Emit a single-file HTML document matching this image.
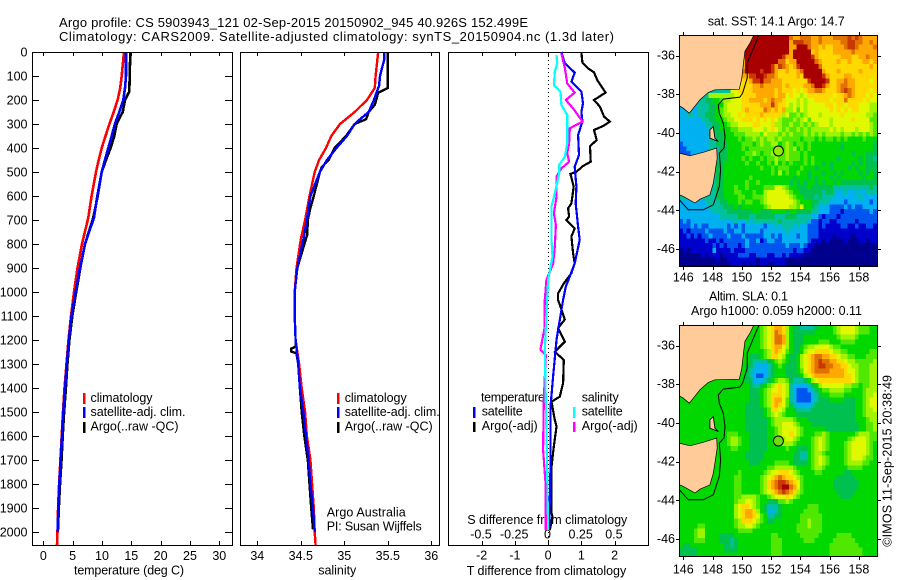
<!DOCTYPE html>
<html lang="en">
<head>
<meta charset="utf-8">
<title>Argo profile CS 5903943_121</title>
<style>
html,body{margin:0;padding:0;background:#fff;}
svg{display:block;}
text{font-family:"Liberation Sans",sans-serif;font-size:12.5px;fill:#000;}
</style>
</head>
<body>
<svg id="chart" xmlns="http://www.w3.org/2000/svg" width="900" height="580" viewBox="0 0 900 580">
  <defs>
    <clipPath id="clip-sst"><rect x="679" y="35" width="198" height="231"/></clipPath>
    <clipPath id="clip-sla"><rect x="679" y="325" width="198" height="231"/></clipPath>
  </defs>
  <rect width="900" height="580" fill="#fff"/>
  <text style="font-size:13px" x="59" y="27" textLength="469" lengthAdjust="spacing">Argo profile: CS 5903943_121 02-Sep-2015 20150902_945 40.926S 152.499E</text>
  <text style="font-size:13px" x="59" y="41" textLength="555" lengthAdjust="spacing">Climatology: CARS2009. Satellite-adjusted climatology: synTS_20150904.nc (1.3d later)</text>

  <g id="temp-panel"></g>
  <g id="sal-panel"></g>
  <g id="diff-panel"></g>
  <g id="sst-map"></g>
  <g id="sla-map"></g>

  <text x="74" y="574.5" textLength="110" lengthAdjust="spacing">temperature (deg C)</text>
  <rect x="83" y="393" width="2.5" height="11" fill="#f00"/>
  <text x="90.5" y="402" textLength="62" lengthAdjust="spacing">climatology</text>
  <rect x="83" y="407" width="2.5" height="11" fill="#00f"/>
  <text x="90.5" y="416" textLength="95" lengthAdjust="spacing">satellite-adj. clim.</text>
  <rect x="83" y="422" width="2.5" height="11" fill="#000"/>
  <text x="90.5" y="430.5" textLength="88" lengthAdjust="spacing">Argo(..raw -QC)</text>

  <text x="318.3" y="574.5" textLength="38" lengthAdjust="spacing">salinity</text>
  <rect x="337" y="393" width="2.5" height="11" fill="#f00"/>
  <text x="344.7" y="402" textLength="62" lengthAdjust="spacing">climatology</text>
  <rect x="337" y="407" width="2.5" height="11" fill="#00f"/>
  <text x="344.7" y="416" textLength="95" lengthAdjust="spacing">satellite-adj. clim.</text>
  <rect x="337" y="422" width="2.5" height="11" fill="#000"/>
  <text x="344.7" y="430.5" textLength="88" lengthAdjust="spacing">Argo(..raw -QC)</text>
  <text x="326.7" y="516.7" textLength="79" lengthAdjust="spacing">Argo Australia</text>
  <text x="326.7" y="530.7" textLength="95" lengthAdjust="spacing">PI: Susan Wijffels</text>

  <text x="481" y="401.7" textLength="64" lengthAdjust="spacing">temperature</text>
  <rect x="473" y="407" width="2.5" height="11" fill="#00f"/>
  <text x="481.7" y="415.7" textLength="41" lengthAdjust="spacing">satellite</text>
  <rect x="473" y="422" width="2.5" height="10" fill="#000"/>
  <text x="481.7" y="430" textLength="56" lengthAdjust="spacing">Argo(-adj)</text>
  <text x="581.7" y="401.7" textLength="37" lengthAdjust="spacing">salinity</text>
  <rect x="573" y="407" width="2.5" height="11" fill="#0ff"/>
  <text x="581.7" y="415.7" textLength="41" lengthAdjust="spacing">satellite</text>
  <rect x="573" y="422" width="2.5" height="10" fill="#f0f"/>
  <text x="581.7" y="430" textLength="56" lengthAdjust="spacing">Argo(-adj)</text>
  <text x="467.3" y="524" textLength="160" lengthAdjust="spacing">S difference from climatology</text>
  <text x="466.7" y="575" textLength="159.5" lengthAdjust="spacing">T difference from climatology</text>

  <text x="707.7" y="25.7" textLength="137" lengthAdjust="spacing">sat. SST: 14.1  Argo: 14.7</text>
  <text x="709" y="300.7" textLength="79" lengthAdjust="spacing">Altim. SLA: 0.1</text>
  <text x="691" y="315" textLength="171" lengthAdjust="spacing">Argo h1000: 0.059 h2000: 0.11</text>
  <text transform="translate(891.5,546.7) rotate(-90)" textLength="171.7" lengthAdjust="spacing">©IMOS 11-Sep-2015 20:38:49</text>
</svg>

<script>
// ---------- profile data (depth in m) ----------
const depthTicks = [0,100,200,300,400,500,600,700,800,900,1000,1100,1200,1300,1400,1500,1600,1700,1800,1900,2000];
const tempTicks = [0,5,10,15,20,25,30];
const salTicks = [34,34.5,35,35.5,36];
const diffTTicks = [-2,-1,0,1,2];
const diffSTicks = [-0.5,-0.25,0,0.25,0.5];

const tempClimDepth = [0,100,150,200,250,300,350,400,450,500,600,690,800,900,1000,1100,1200,1300,1400,1500,1600,1700,1800,1900,2000,2054];
const tempClim = [13.76,13.36,13.1,12.67,12.0,11.26,10.6,9.95,9.45,8.98,8.24,7.67,6.6,5.83,5.23,4.72,4.3,3.95,3.62,3.35,3.14,2.92,2.7,2.53,2.42,2.33];
const tempSatDepth = [0,100,150,200,250,300,350,400,450,500,600,690,800,900,1000,1100,1200,1300,1400,1500,1600,1700,1800,1900,2000];
const tempSat = [14.1,14.1,13.93,13.64,12.96,12.2,11.66,11.08,10.5,9.95,9.2,8.64,7.1,6.25,5.49,4.8,4.35,4.0,3.7,3.41,3.19,2.96,2.73,2.56,2.45];
const tempArgoDepth = [0,165,200,250,300,350,400,450,500,600,690,800,900,1000,1100,1200,1300,1400,1500,1600,1700,1800,1900,1990];
const tempArgo = [14.83,14.66,13.93,13.53,12.5,12.1,11.48,10.69,9.95,9.27,8.52,7.1,6.3,5.6,4.95,4.45,4.1,3.85,3.55,3.3,3.1,2.85,2.65,2.5];

const salClimDepth = [0,100,150,200,250,300,350,400,450,500,600,700,780,900,1000,1100,1200,1300,1400,1500,1600,1700,1800,1900,2000,2054];
const salClim = [35.39,35.36,35.35,35.26,35.12,34.95,34.85,34.79,34.71,34.66,34.6,34.55,34.5,34.45,34.43,34.43,34.44,34.48,34.51,34.55,34.57,34.61,34.63,34.65,34.66,34.67];
const salSatDepth = [0,30,100,140,200,250,280,300,350,400,450,500,600,700,780,900,1000,1100,1200,1300,1400,1500,1600,1700,1800,1900,2000];
const salSat = [35.46,35.46,35.41,35.4,35.34,35.28,35.18,35.12,35.03,34.91,34.8,34.72,34.61,34.57,34.53,34.46,34.43,34.43,34.44,34.47,34.49,34.53,34.56,34.59,34.61,34.64,34.66];
const salArgoDepth = [0,150,170,220,250,280,300,350,400,450,480,500,600,650,700,760,790,900,1000,1100,1200,1228,1236,1248,1256,1300,1400,1500,1600,1700,1800,1900,1990];
const salArgo = [35.5,35.5,35.39,35.35,35.28,35.25,35.12,35.02,34.89,34.82,34.74,34.72,34.65,34.61,34.58,34.575,34.55,34.46,34.43,34.43,34.44,34.44,34.39,34.39,34.45,34.47,34.49,34.51,34.54,34.58,34.6,34.62,34.64];

const diffTArgoDepth = [3,44,68,85,117,169,200,228,269,290,308,325,367,392,457,475,499,508,561,631,651,686,700,735,769,839,881,922,964,1006,1033,1114,1151,1207,1249,1283,1380,1436,1457,1533,1561,1644,1728,1922,1936,1992];
const diffTArgo = [1.0,1.03,1.2,1.38,1.48,1.73,1.38,1.56,1.68,1.86,1.66,1.38,1.46,1.26,1.28,1.05,0.85,0.67,0.77,0.7,0.6,0.63,0.55,0.8,0.7,0.75,0.8,0.7,0.47,0.3,0.3,0.5,0.3,0.5,0.2,0.47,0.45,0.35,0.1,0.2,0.25,0.17,0.1,0.1,0.13,0.05];
const diffTSatDepth = [0,47,86,124,165,214,249,290,346,429,478,561,631,728,783,881,936,978,1033,1200,1352,1478,1728,1992];
const diffTSat = [0.4,0.5,0.8,0.7,1.0,1.05,1.0,1.03,0.9,0.93,0.8,0.85,0.83,0.9,0.95,0.8,0.65,0.53,0.45,0.25,0.15,0.07,0.07,0.03];
const diffSSatDepth = [12,47,82,138,165,221,262,381,436,471,506,589,644,783,853,950,1033,1241,1450,1728,1992];
const diffSSat = [0.063,0.068,0.05,0.043,0.093,0.1,0.143,0.143,0.126,0.083,0.083,0.05,0.025,0.025,0.033,0,-0.008,-0.025,-0.018,-0.008,0];
const diffSArgoDepth = [6,68,131,169,200,235,290,318,381,422,457,485,519,603,672,721,811,881,950,1033,1144,1241,1262,1450,1658,1811,1992];
const diffSArgo = [0.1,0.126,0.143,0.2,0.133,0.188,0.259,0.163,0.158,0.143,0.158,0.1,0.063,0.063,0.043,0.058,0.05,0.038,-0.013,-0.025,-0.025,-0.058,-0.018,-0.033,-0.038,-0.018,-0.018];

// ---------- map data: colour class per 0.25 degree cell, north to south, west to east ----------
const sstRows = [
"4444444444 4444444444 eeeeeeeeee cbbcccbbcb bbccccdcdc bbbb",
"4444444444 44444444de eeeeeeeeee bdddccbbcb bbbbccddcc bbcb",
"4444444444 44444444ee eeeeeeeeee bbeeecbbab aabbbcddcb bbbc",
"4444444444 4444444cee eeeeeeeeee beeeeeabaa aabbbbbcbb bbbb",
"4444444444 4444444cee eeeeeeeedb beeeeedbaa aaaabbbaab bcbb",
"4444444444 4444444bee eeeeeeecca bbeeeeecba aaabaabaaa bbab",
"4444444444 4444444bee eeeeedbdcb abdeeeeeca aaaaaaaaaa aaba",
"4444444444 4444444cee eedeedbaab aabceeeeeb aaabaaaaab aaaa",
"4444444444 4444444bbd deedccbaaa aabaeeeeed baaaabbaaa aaaa",
"4444444444 4444449aab ddeccbbbaa aaaaadeeee daabbcbbaa aa9a",
"4444444444 4444449aaa bbcbbbbbab aaaabbceed baabccbbaa aaaa",
"4444444444 444499aaaa bbbbbbabaa a9a9abbccb aaabcdcbaa aa9a",
"4444444488 8888899aaa abbbbbabb9 a9989aaaaa aa9aabcbaa a9a9",
"4444444556 6788999aab bbbabcbba9 9989899aaa a9aaacaaaa 9a99",
"4444344455 6689999aaa aabbbdbaa9 8989899999 aa9aa9aaa9 9988",
"3333344455 6789999aba aaacbabab8 8979899999 9a9a9a9aa9 9988",
"3344344555 678899a9aa aabaaaaa89 7787899989 9999a99999 9887",
"3333334455 6678899aaa 9a9a9a9877 7878979999 9899999a99 9977",
"3333333445 5667889999 aa999a8877 8778787899 9899999999 9987",
"3333333345 5666778888 99989a9878 7787878888 8989899989 9987",
"3333333344 5566677788 8879888787 8777878787 8888788787 8787",
"3333333344 5566667677 8787887877 7776777676 7767676666 7666",
"2333333344 5556666777 6787788678 7677676666 6666566666 6665",
"2233333344 4556666767 7777778878 7867676666 6666566666 6665",
"2223333344 4556666677 8767787878 7776766666 6666666566 6555",
"2222222234 4556666767 6676778778 7776767666 6665666665 6554",
"4444444444 5566666676 6766768676 7666767665 6566666565 6555",
"4444444444 5566666666 6676676777 6667666566 6566665656 6555",
"4444444444 5566666666 6666676867 6676656665 6656566665 6565",
"4444444444 5566666667 6666666666 6566656566 6565666666 5665",
"4444444444 5566666676 6766666666 5656566565 6656555555 5555",
"4444444444 5566676676 6667779987 6655565555 5544444444 4454",
"4444444444 5566677666 7668999998 7665555554 5543343343 3444",
"4444444444 5566667766 7778999999 8766555454 4433333334 3333",
"3333333444 4556667677 6678999999 9876665544 4333323333 3323",
"3333333344 4455565666 6667899999 8879665433 3222232322 3333",
"3333333334 4445555555 6655566665 6655554433 3222122222 2232",
"3333333333 3444445554 4555554445 5544443321 2221222222 2222",
"2323333333 3333343343 4444444544 4444432212 2112222212 2222",
"2223232233 3332323233 3332334344 4343322212 1111221121 1221",
"1212222322 2232233233 3323333334 3333322211 1111111111 1111",
"1121212232 2223222322 2223323233 3323322211 1101111011 1111",
"1111111211 2122222232 2312332233 3333321110 1000010001 1011",
"1111111112 1212221232 2222222223 2223211000 0000000000 0000",
"0101111113 1111211122 2222222222 2122110000 0000000000 0000",
"0000001011 1011112221 1222112212 1111000000 0000000000 0000",
"0000000000 1001111111 1011111110 0000000000 0000000000 0000",
"0000000000 0000111010 1011001110 0000000000 0000000000 0000"
];
const slaRows = [
"6666666666 6666666666 66789abba8 6554444566 6678999987 7766",
"6666666666 6666666666 66789acba8 6555555666 6678999987 7766",
"6666666666 6666666666 66789accb8 6555666666 6667888876 6666",
"6666666666 6666666666 66789accb8 6555666677 7666777766 6666",
"6666666666 6666666666 66789abb98 6556788999 9877666666 6666",
"6666666666 6666666666 66678aba97 6556899aaa a988776666 6677",
"6666666666 6666666665 55678aa986 55689abccb baa9887766 6777",
"6666666666 6666666665 4444567876 55689abcdc cbbaa98877 7778",
"6666666666 6666666655 4333456765 55689abcdd ccbbaa9887 7788",
"6666666666 6666666654 3333456665 55679abccc cbbbba9987 7788",
"6666666666 6666666654 3223456665 555689abbb bbbbbaa987 7788",
"6666666666 6666666655 3334567887 54445689aa aaaaaaa987 7788",
"6666666666 6666666665 4456789a98 4333345689 9999988776 7788",
"6666666666 6666666665 5567899a98 4322234567 7888877666 7888",
"6666666666 6666666665 55678aaa98 4322223456 6777766666 7889",
"6666666666 6666666665 55678abb97 4322223455 5666655566 7899",
"6666666666 6666666655 55678aba97 5433334555 5555555566 7899",
"6666666666 6666666655 55567aa986 6544445555 5555555566 7889",
"6666666666 6666666655 5556789876 6655555555 5555555566 7888",
"6666666666 6666666655 5555678888 8766655555 5555555566 6788",
"6666666666 6666666655 5555678899 9876665555 5555555556 6778",
"6666666666 6666666655 5555667899 9987666666 5555555556 6778",
"6666666666 6667776665 5555667899 a987666778 7666666678 8877",
"6666666666 6667887665 5555667789 9876667898 7666667899 9877",
"6666666666 6667887665 5555666788 8766667898 7666678999 9876",
"6666666666 6666776665 5555666667 6655567898 7666678999 9876",
"6666666666 6666666655 5556666666 6554467887 6666678999 9876",
"6666666666 6666666655 5556666666 6554467898 7666678999 8776",
"6666666666 6666666665 5566667777 6555567898 7666678888 7766",
"6666666666 6666666666 6666778888 8766667887 6666667777 6666",
"6666666666 6666667666 6667899aaa 9876666776 6666655666 6666",
"6666666666 6666677666 66789abcba a987666666 6665555566 6666",
"6666666666 6666677666 6678abcddc ba97666666 6655555556 6666",
"6666666666 6666677666 6678abcdee cb97666666 6655555556 6666",
"6666666666 6666677666 66789abcdc ba87666666 6665555566 6666",
"6666666666 6666677888 876678999a 9876666666 6666555666 6666",
"6666666666 6666678899 8766555778 7666666666 6666666666 6666",
"6666666666 6666689aa9 8765444566 6666677766 6666666666 6666",
"6666666666 6666689abb a865334566 6666777766 6666666666 6666",
"6666666666 6666689abb a976445566 6667777776 6666666666 6666",
"6666666666 6666678aaa 9876556666 6667787776 6666666666 6666",
"6666677666 6666678899 8766666666 6677787776 6666666666 6666",
"6666788666 6666667777 6666666666 6677777776 6666666666 6666",
"6666788666 6555566666 6666677666 6667777766 6667777666 6666",
"6666777666 6555456666 6666677766 6666777666 6677777766 6666",
"6556666666 6655456666 6666677766 6666666666 6777777776 6666",
"5555566666 6655556666 6666677766 6666666666 6777777777 6666",
"5555566666 6666666666 6666677766 6666666666 6777777777 6666"
];
const colourClasses = "0123456789abcde";
const palette = ["#00008c","#0000cc","#0055f0","#00b0f0","#00c0a0","#00c050","#00d800","#50e800","#a0f400","#e0f800","#ffd800","#ffa800","#e07000","#c83800","#a80000"];
const lonTicks = [146,148,150,152,154,156,158];
const latTicks = [36,38,40,42,44,46];
const floatLon = [152.5];
const floatLat = [40.93];
const mainlandLon = [145.73,146.0,146.41,146.68,147.14,147.7,148.16,149.83,150.0,150.1,150.21,150.56,150.85,145.73];
const mainlandLat = [38.6,38.72,38.98,38.72,38.29,37.91,37.77,37.74,37.17,36.48,35.79,35.36,34.9,34.9];
const tasmaniaLon = [145.73,146.46,147.37,148.28,148.32,148.16,148.05,147.82,147.14,146.8,146.0,145.73];
const tasmaniaLat = [41.04,41.18,41.0,40.78,41.3,42.08,42.6,43.2,43.42,43.62,43.28,43.19];
const flindersLon = [147.82,148.05,148.16,148.39,147.82];
const flindersLat = [39.84,39.67,40.27,40.44,40.27];
const isobathLon = [151.17,150.37,150.37,150.05,149.87,148.73,148.39,148.46,148.73,148.85,148.78,148.46,148.55,148.46,148.05,147.37,146.34,145.73];
const isobathLat = [34.93,36.4,37.17,37.94,38.15,38.25,38.55,38.98,39.49,40.18,40.78,41.04,41.9,42.76,43.71,43.97,43.97,43.45];

// ---------- helpers ----------
const SVG_NS = "http://www.w3.org/2000/svg";
function mk(parent, tag, attrs, txt) {
  const el = document.createElementNS(SVG_NS, tag);
  for (const k in attrs) el.setAttribute(k, attrs[k]);
  if (txt !== undefined) el.textContent = txt;
  parent.appendChild(el);
  return el;
}
function linear(d0, d1, r0, r1) {
  return function (v) { return r0 + (v - d0) * (r1 - r0) / (d1 - d0); };
}
const PANEL_TOP = 52, PANEL_BOTTOM = 545;
const yDepth = linear(0, 2000, 52, 532);
function pts(values, depths, xs) {
  return values.map(function (v, i) { return xs(v).toFixed(1) + "," + yDepth(depths[i]).toFixed(1); }).join(" ");
}
function frame(g, x0, x1, name) {
  const el = mk(g, "rect", {x: x0 + 0.5, y: PANEL_TOP + 0.5, width: x1 - x0, height: PANEL_BOTTOM - PANEL_TOP, fill: "none", stroke: "#000", "stroke-width": 1, "shape-rendering": "crispEdges"});
  
  
}
function xTicks(g, ticks, xs, y) {
  ticks.forEach(function (t) {
    const px = Math.round(xs(t)) + 0.5;
    const a = mk(g, "line", {x1: px, x2: px, y1: PANEL_TOP, y2: PANEL_TOP + 4, stroke: "#000", "shape-rendering": "crispEdges"});
    
    
    const b = mk(g, "line", {x1: px, x2: px, y1: PANEL_BOTTOM - 4, y2: PANEL_BOTTOM, stroke: "#000", "shape-rendering": "crispEdges"});
    
    
    const l = mk(g, "text", {x: xs(t), y: y, "text-anchor": "middle"}, String(t));
    
    
  });
}
function series(g, values, depths, xs, colour, width, name) {
  const el = mk(g, "polyline", {points: pts(values, depths, xs), fill: "none", stroke: colour, "stroke-width": width, "stroke-linejoin": "miter", "shape-rendering": "crispEdges"});
  
  
}

// ---------- temperature panel ----------
const tempG = document.getElementById("temp-panel");
const xTemp = linear(0, 30, 43.3, 219.3);
series(tempG, tempClim, tempClimDepth, xTemp, "#f00", 2.6, "series-temperature-climatology");
series(tempG, tempArgo, tempArgoDepth, xTemp, "#000", 2.6, "series-temperature-argo");
series(tempG, tempSat, tempSatDepth, xTemp, "#00f", 2.6, "series-temperature-satellite");
frame(tempG, 32, 232, "temperature-plot-frame");
xTicks(tempG, tempTicks, xTemp, 560);
depthTicks.forEach(function (d) {
  const py = Math.round(yDepth(d)) + 0.5;
  const a = mk(tempG, "line", {x1: 32, x2: 39, y1: py, y2: py, stroke: "#000", "shape-rendering": "crispEdges"});
  
  
  const b = mk(tempG, "line", {x1: 225, x2: 232, y1: py, y2: py, stroke: "#000", "shape-rendering": "crispEdges"});
  
  
  const l = mk(tempG, "text", {x: 27.5, y: yDepth(d) + 4.5, "text-anchor": "end"}, String(d));
  
  
});

// ---------- salinity panel ----------
const salG = document.getElementById("sal-panel");
const xSal = linear(34, 36, 257.3, 431.3);
series(salG, salClim, salClimDepth, xSal, "#f00", 2.4, "series-salinity-climatology");
series(salG, salArgo, salArgoDepth, xSal, "#000", 2.4, "series-salinity-argo");
series(salG, salSat, salSatDepth, xSal, "#00f", 2.4, "series-salinity-satellite");
frame(salG, 240, 439, "salinity-plot-frame");
xTicks(salG, salTicks, xSal, 560);

// ---------- difference panel ----------
const diffG = document.getElementById("diff-panel");
const xDiffT = linear(-2, 2, 481.7, 614.6);
const xDiffS = linear(-0.5, 0.5, 481.7, 614.6);
const zero = mk(diffG, "line", {x1: 548.5, x2: 548.5, y1: PANEL_TOP, y2: PANEL_BOTTOM, stroke: "#000", "stroke-width": 1, "stroke-dasharray": "1 3", "shape-rendering": "crispEdges"});


frame(diffG, 448, 648, "difference-plot-frame");
xTicks(diffG, diffTTicks, xDiffT, 559.3);
diffSTicks.forEach(function (t) {
  const l = mk(diffG, "text", {x: xDiffS(t) - 0.7, y: 538.7, "text-anchor": "middle"}, String(t));
  
  
});
// series sit above the difference-axis text, as in the reference
function diffSeries() {
  series(diffG, diffTArgo, diffTArgoDepth, xDiffT, "#000", 2.2, "series-t-difference-argo");
  series(diffG, diffTSat, diffTSatDepth, xDiffT, "#00f", 2.2, "series-t-difference-satellite");
  series(diffG, diffSArgo, diffSArgoDepth, xDiffS, "#f0f", 2.2, "series-s-difference-argo");
  series(diffG, diffSSat, diffSSatDepth, xDiffS, "#0ff", 2.2, "series-s-difference-satellite");
}

// ---------- maps ----------
const xLon = linear(146, 158, 683.3, 858.9);
function drawMap(g, rows, top, bottom, clipId, prefix, markerFill, labelY) {
  const yLat = linear(36, 46, top + 20.5, top + 214.1);
  const lon0 = 145.73, lat0 = 34.94, step = 0.25;
  const cells = mk(g, "g", {"clip-path": "url(#" + clipId + ")", "shape-rendering": "crispEdges"});
  
  
  rows.forEach(function (row, r) {
    const chars = row.replace(/ /g, "");
    for (let c = 0; c < chars.length; c++) {
      const x0 = xLon(lon0 + c * step), x1 = xLon(lon0 + (c + 1) * step);
      const y0 = yLat(lat0 + r * step), y1 = yLat(lat0 + (r + 1) * step);
      const cell = mk(cells, "rect", {x: x0.toFixed(2), y: y0.toFixed(2), width: (x1 - x0 + 0.4).toFixed(2), height: (y1 - y0 + 0.4).toFixed(2), fill: palette[colourClasses.indexOf(chars[c])]});
      
      
    }
  });
  const shapes = mk(g, "g", {"clip-path": "url(#" + clipId + ")"});
  
  
  function geo(lons, lats) {
    return lons.map(function (lo, i) { return xLon(lo).toFixed(1) + "," + yLat(lats[i]).toFixed(1); }).join(" ");
  }
  const land1 = mk(shapes, "polygon", {points: geo(mainlandLon, mainlandLat), fill: "#ffcc99", stroke: "#000", "stroke-width": 0.7});
  
  
  const land2 = mk(shapes, "polygon", {points: geo(tasmaniaLon, tasmaniaLat), fill: "#ffcc99", stroke: "#000", "stroke-width": 0.7});
  
  
  const land3 = mk(shapes, "polygon", {points: geo(flindersLon, flindersLat), fill: "#ffcc99", stroke: "#000", "stroke-width": 0.9});
  
  
  const iso = mk(shapes, "polyline", {points: geo(isobathLon, isobathLat), fill: "none", stroke: "#000", "stroke-width": 1});
  
  
  floatLon.forEach(function (lo, i) {
    const m = mk(shapes, "circle", {cx: xLon(lo), cy: yLat(floatLat[i]), r: 5, fill: markerFill, stroke: "#000", "stroke-width": 1});
    
    
  });
  const fr = mk(g, "rect", {x: 679.5, y: top + 0.5, width: 198, height: bottom - top, fill: "none", stroke: "#000", "shape-rendering": "crispEdges"});
  
  
  lonTicks.forEach(function (t) {
    const px = Math.round(xLon(t)) + 0.5;
    const a = mk(g, "line", {x1: px, x2: px, y1: top - 3, y2: top, stroke: "#000", "shape-rendering": "crispEdges"});
    
    
    const b = mk(g, "line", {x1: px, x2: px, y1: bottom + 1, y2: bottom + 4, stroke: "#000", "shape-rendering": "crispEdges"});
    
    
    const l = mk(g, "text", {x: xLon(t), y: labelY, "text-anchor": "middle"}, String(t));
    
    
  });
  latTicks.forEach(function (t) {
    const py = Math.round(yLat(t)) + 0.5;
    const a = mk(g, "line", {x1: 676, x2: 679, y1: py, y2: py, stroke: "#000", "shape-rendering": "crispEdges"});
    
    
    const b = mk(g, "line", {x1: 878, x2: 881, y1: py, y2: py, stroke: "#000", "shape-rendering": "crispEdges"});
    
    
    const l = mk(g, "text", {x: 675, y: yLat(t) + 4, "text-anchor": "end"}, "-" + t);
    
    
  });
}
drawMap(document.getElementById("sst-map"), sstRows, 35, 266, "clip-sst", "sst", "#96ea00", 281.7);
drawMap(document.getElementById("sla-map"), slaRows, 325, 556, "clip-sla", "sla", "#6edc10", 573.3);

// move the difference series above all text of the panel
diffSeries();
const chartSvg = document.getElementById("chart");
chartSvg.appendChild(diffG);
</script>
</body>
</html>
